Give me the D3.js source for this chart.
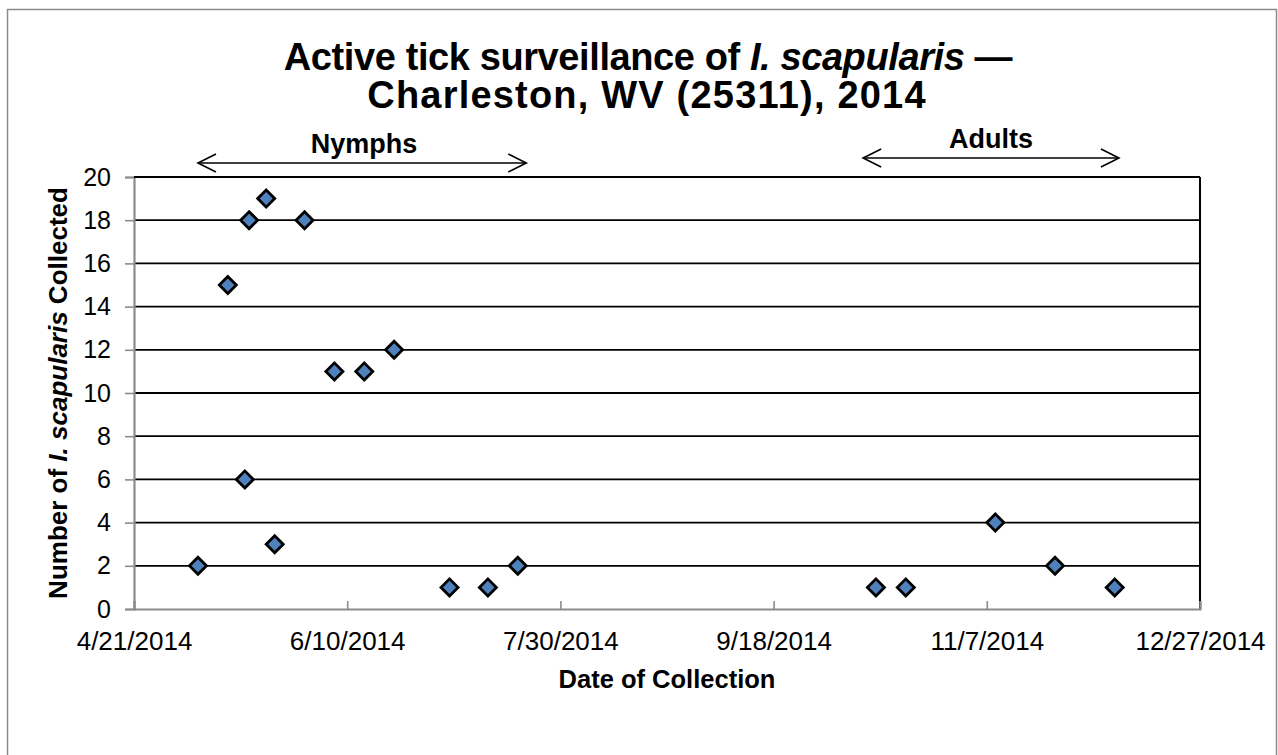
<!DOCTYPE html>
<html>
<head>
<meta charset="utf-8">
<script src="https://cdn.jsdelivr.net/npm/d3@7"></script>
<style>
  body { margin: 0; background: #fff; }
  svg { display: block; font-family: "Liberation Sans", Arial, sans-serif; }
</style>
</head>
<body>
<svg id="chart" width="1278" height="755"></svg>
<script>
// collection dates and counts
const dates = [
  "2014-05-06", "2014-05-13", "2014-05-17", "2014-05-18", "2014-05-22", "2014-05-24",
  "2014-05-31", "2014-06-07", "2014-06-14", "2014-06-21", "2014-07-04", "2014-07-13",
  "2014-07-20", "2014-10-12", "2014-10-19", "2014-11-09", "2014-11-23", "2014-12-07"
];
const counts = [2, 15, 6, 18, 19, 3, 18, 11, 11, 12, 1, 1, 2, 1, 1, 4, 2, 1];
const xTickDates = ["2014-04-21", "2014-06-10", "2014-07-30", "2014-09-18", "2014-11-07", "2014-12-27"];
const yTicks = [0, 2, 4, 6, 8, 10, 12, 14, 16, 18, 20];
const stages = ["Nymphs", "Adults"];
const stageStart = ["2014-05-06", "2014-10-09"];
const stageEnd = ["2014-07-22", "2014-12-08"];

const parse = d3.utcParse("%Y-%m-%d");
const fmt = d => `${d.getUTCMonth() + 1}/${d.getUTCDate()}/${d.getUTCFullYear()}`;

const width = 1278;
const height = 755;
const pLeft = 134, pRight = 1200, pTop = 177, pBottom = 609;
const font = "'Liberation Sans', Arial, sans-serif";

const svg = d3.select("#chart");

// outer frame
svg.append("rect")
  .attr("x", 7.5).attr("y", 9.5)
  .attr("width", width - 9).attr("height", height)
  .attr("fill", "none").attr("stroke", "#8c8c8c").attr("stroke-width", 1.5);

const x = d3.scaleUtc()
  .domain([parse(xTickDates[0]), parse(xTickDates[xTickDates.length - 1])])
  .range([pLeft, pRight]);

const y = d3.scaleLinear()
  .domain([0, 20])
  .range([pBottom, pTop]);

// gridlines
svg.append("g")
  .selectAll("line")
  .data(yTicks.filter(v => v > 0))
  .enter()
  .append("line")
  .attr("x1", pLeft).attr("x2", pRight)
  .attr("y1", d => y(d)).attr("y2", d => y(d))
  .attr("stroke", "#000").attr("stroke-width", 1.8);

// right border
svg.append("line")
  .attr("x1", pRight).attr("x2", pRight)
  .attr("y1", pTop).attr("y2", pBottom)
  .attr("stroke", "#000").attr("stroke-width", 2);

// Axes
const yAxis = d3.axisLeft(y)
  .tickValues(yTicks)
  .tickSize(9)
  .tickPadding(14);

const yG = svg.append("g")
  .attr("transform", `translate(${pLeft}, 0)`)
  .call(yAxis);
yG.select(".domain").attr("stroke", "#8c8c8c").attr("stroke-width", 2.2);
yG.selectAll(".tick line").attr("stroke", "#8c8c8c").attr("stroke-width", 1.6);
yG.selectAll("text").attr("font-size", 25).attr("fill", "#000").attr("font-family", font);

const xAxis = d3.axisBottom(x)
  .tickValues(xTickDates.map(parse))
  .tickFormat(fmt)
  .tickSize(-8)
  .tickPadding(23);

const xG = svg.append("g")
  .attr("transform", `translate(0, ${pBottom})`)
  .call(xAxis);
xG.select(".domain").attr("stroke", "#8c8c8c").attr("stroke-width", 2.2);
xG.selectAll(".tick line").attr("stroke", "#8c8c8c").attr("stroke-width", 1.6);
xG.selectAll("text").attr("font-size", 26).attr("fill", "#000").attr("font-family", font);

// top border drawn over the 20 gridline
svg.append("line")
  .attr("x1", pLeft).attr("x2", pRight)
  .attr("y1", pTop).attr("y2", pTop)
  .attr("stroke", "#000").attr("stroke-width", 2.2);

// Points
svg.append("g")
  .selectAll("path")
  .data(dates.map((d, i) => ({ date: parse(d), n: counts[i] })))
  .enter()
  .append("path")
  .attr("d", d3.symbol(d3.symbolSquare, 145))
  .attr("transform", d => `translate(${x(d.date)}, ${y(d.n)}) rotate(45)`)
  .attr("fill", "#4f81bd")
  .attr("stroke", "#000")
  .attr("stroke-width", 2.8);

// Stage arrows
const arrowY = [163, 158];
const stageG = svg.append("g");
stages.forEach((s, i) => {
  const x1 = x(parse(stageStart[i]));
  const x2 = x(parse(stageEnd[i]));
  const yy = arrowY[i];
  stageG.append("line")
    .attr("x1", x1).attr("x2", x2).attr("y1", yy).attr("y2", yy)
    .attr("stroke", "#000").attr("stroke-width", 1.6);
  stageG.append("path")
    .attr("d", `M${x1 + 18},${yy - 9} L${x1},${yy} L${x1 + 18},${yy + 9}`)
    .attr("fill", "none").attr("stroke", "#000").attr("stroke-width", 1.6);
  stageG.append("path")
    .attr("d", `M${x2 - 18},${yy - 9} L${x2},${yy} L${x2 - 18},${yy + 9}`)
    .attr("fill", "none").attr("stroke", "#000").attr("stroke-width", 1.6);
  stageG.append("text")
    .attr("x", (x1 + x2) / 2 + (i === 0 ? 2 : 0))
    .attr("y", yy - 10)
    .attr("text-anchor", "middle")
    .attr("font-size", 27).attr("font-weight", "bold")
    .text(s);
});

// Title
const title = svg.append("text")
  .attr("text-anchor", "middle")
  .attr("font-size", 38).attr("font-weight", "bold");
const t1 = title.append("tspan").attr("x", 648).attr("y", 70).attr("letter-spacing", -0.4);
t1.append("tspan").text("Active tick surveillance of ");
t1.append("tspan").attr("font-style", "italic").text("I. scapularis");
t1.append("tspan").text(" \u2014");
title.append("tspan").attr("x", 647).attr("y", 108).attr("letter-spacing", 1.2)
  .text("Charleston, WV (25311), 2014");

// Axis titles
svg.append("text")
  .attr("x", (pLeft + pRight) / 2)
  .attr("y", 688)
  .attr("text-anchor", "middle")
  .attr("font-size", 25.5).attr("font-weight", "bold")
  .text("Date of Collection");

const yt = svg.append("text")
  .attr("transform", `translate(67, ${(pTop + pBottom) / 2}) rotate(-90)`)
  .attr("text-anchor", "middle")
  .attr("font-size", 26).attr("font-weight", "bold");
yt.append("tspan").text("Number of ");
yt.append("tspan").attr("font-style", "italic").text("I. scapularis");
yt.append("tspan").text(" Collected");
</script>
</body>
</html>
